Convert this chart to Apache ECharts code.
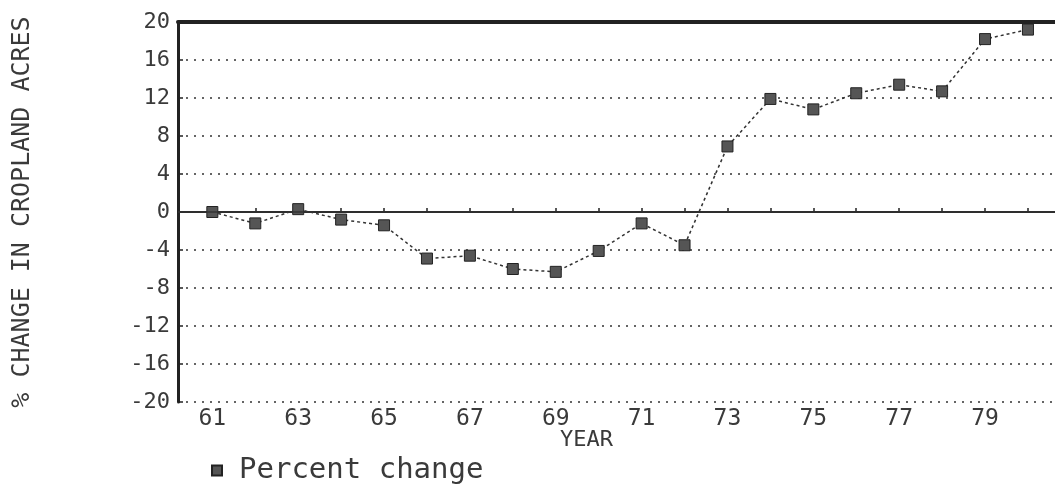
<!DOCTYPE html>
<html>
<head>
<meta charset="utf-8">
<script src="https://cdn.jsdelivr.net/npm/echarts@6/dist/echarts.min.js"></script>
<style>html,body{margin:0;padding:0;background:#fff}#c{width:1055px;height:485px}</style>
</head>
<body>
<div id="c"></div>
<script>
const years = [61,62,63,64,65,66,67,68,69,70,71,72,73,74,75,76,77,78,79,80];
const percentChange = [0.0,-1.2,0.3,-0.8,-1.4,-4.9,-4.6,-6.0,-6.3,-4.1,-1.2,-3.5,6.9,11.9,10.8,12.5,13.4,12.7,18.2,19.2];
const xTickYears = [61,62,63,64,65,66,67,68,69,70,71,72,73,74,75,76,77,78,79,80];
const xLabelYears = [61,63,65,67,69,71,73,75,77,79];
const seriesName = 'Percent change';
const yTitle = '% CHANGE IN CROPLAND ACRES';
const xTitle = 'YEAR';

const font = 'DejaVu Sans Mono';
const ink = '#3a3a3a';
const chart = echarts.init(document.getElementById('c'));
chart.setOption({
  animation: false,
  backgroundColor: '#fff',
  grid: {left: 178, right: 0, top: 22, bottom: 83},
  legend: {
    left: 206, top: 451, itemWidth: 10, itemHeight: 10, itemGap: 10,
    icon: 'rect',
    textStyle: {fontFamily: font, fontSize: 29, color: ink, padding: [0,0,0,12]},
    data: [seriesName]
  },
  xAxis: [{
    type: 'value', min: 60.2, max: 80.63,
    axisLine: {lineStyle: {color: '#222', width: 2}},
    axisTick: {inside: true, length: 4, customValues: xTickYears, lineStyle: {color: '#222', width: 1.5}},
    axisLabel: {customValues: xLabelYears, fontFamily: font, fontSize: 23, color: ink, margin: 6},
    splitLine: {show: false}
  }, {
    type: 'value', min: 60.2, max: 80.63, position: 'top',
    axisLine: {show: true, lineStyle: {color: '#222', width: 4}},
    axisTick: {show: false}, axisLabel: {show: false}, splitLine: {show: false}
  }],
  yAxis: {
    type: 'value', min: -20, max: 20, interval: 4,
    name: yTitle, nameLocation: 'middle', nameRotate: 90, nameGap: 143,
    nameTextStyle: {fontFamily: font, fontSize: 25, color: ink},
    axisLine: {show: true, lineStyle: {color: '#222', width: 3}},
    axisTick: {show: true, inside: true, length: 5, lineStyle: {color: '#222', width: 1.5}},
    axisLabel: {fontFamily: font, fontSize: 22, color: ink, margin: 8},
    splitLine: {show: true, lineStyle: {color: '#333', width: 1.5, type: [2,6]}}
  },
  graphic: [{
    type: 'text', left: 560, top: 429,
    style: {text: xTitle, font: '22px "DejaVu Sans Mono"', fill: ink}
  }],
  series: [{
    name: seriesName, type: 'line',
    data: years.map((y, i) => [y, percentChange[i]]),
    symbol: 'rect', symbolSize: 11,
    lineStyle: {color: '#333', width: 1.5, type: [3,3]},
    itemStyle: {color: '#555', borderColor: '#222', borderWidth: 1},
    markLine: {
      silent: true, symbol: 'none', label: {show: false},
      lineStyle: {color: '#333', width: 1.5, type: 'solid'},
      data: [{yAxis: 0}]
    }
  }]
});
</script>
</body>
</html>
